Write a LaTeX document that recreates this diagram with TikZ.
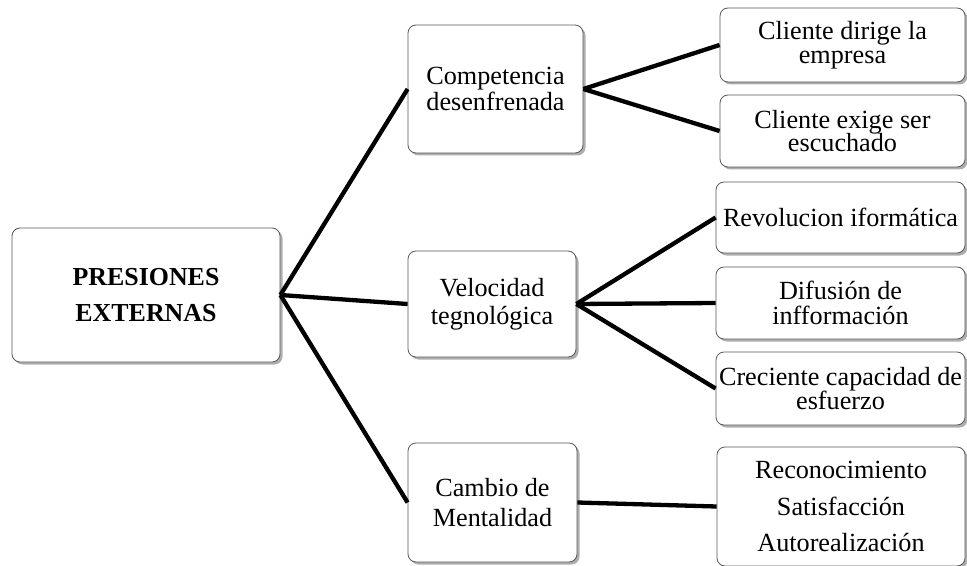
\documentclass[tikz,border=0pt]{standalone}
\usepackage{fontspec}
\setmainfont{Liberation Serif}
\usetikzlibrary{shadows}
\begin{document}
\begin{tikzpicture}[x=1bp,y=-1bp,
  box/.style={draw=black!65, line width=0.8bp, fill=white, rounded corners=8bp,
    align=center, inner sep=0pt, font=\fontsize{26.3}{27}\selectfont,
    drop shadow={shadow xshift=2.5bp, shadow yshift=-2.5bp, opacity=0.45, fill=black!70}},
  link/.style={line width=4.3bp, black}]
\useasboundingbox (0,0) rectangle (967,566);

% root
\node[box, minimum width=268bp, minimum height=134bp,
      font=\bfseries\fontsize{26}{37}\selectfont] (root) at (146,295) {PRESIONES\\EXTERNAS};

% second level
\node[box, minimum width=175bp, minimum height=128bp, font=\fontsize{26.3}{26}\selectfont] (comp) at (495.5,89) {Competencia\\desenfrenada};
\node[box, minimum width=168bp, minimum height=106bp, font=\fontsize{26.3}{28}\selectfont] (vel) at (492,304) {Velocidad\\tegnológica};
\node[box, minimum width=169bp, minimum height=119bp, font=\fontsize{26.3}{30}\selectfont] (camb) at (492.5,502.5) {Cambio de\\Mentalidad};

% third level
\node[box, minimum width=245bp, minimum height=74bp, font=\fontsize{26.3}{24}\selectfont] (cli1) at (842.5,45) {Cliente dirige la\\empresa};
\node[box, minimum width=245bp, minimum height=72bp, font=\fontsize{26.3}{24}\selectfont] (cli2) at (842.5,131) {Cliente exige ser\\escuchado};
\node[box, minimum width=249bp, minimum height=71bp] (rev) at (840.5,217.5) {Revolucion iformática};
\node[box, minimum width=249bp, minimum height=72bp, font=\fontsize{26.3}{25}\selectfont] (dif) at (840.5,303) {Difusión de\\infformación};
\node[box, minimum width=249bp, minimum height=73bp, font=\fontsize{26.3}{25}\selectfont] (cre) at (840.5,388.5) {Creciente capacidad de\\esfuerzo};
\node[box, minimum width=248bp, minimum height=119bp, font=\fontsize{26.3}{37}\selectfont] (reco) at (841,506.5) {Reconocimiento\\Satisfacción\\Autorealización};

% connectors
\draw[link] (root.east) -- (comp.west);
\draw[link] (root.east) -- (vel.west);
\draw[link] (root.east) -- (camb.west);
\draw[link] (comp.east) -- (cli1.west);
\draw[link] (comp.east) -- (cli2.west);
\draw[link] (vel.east) -- (rev.west);
\draw[link] (vel.east) -- (dif.west);
\draw[link] (vel.east) -- (cre.west);
\draw[link] (camb.east) -- (reco.west);
\end{tikzpicture}
\end{document}
